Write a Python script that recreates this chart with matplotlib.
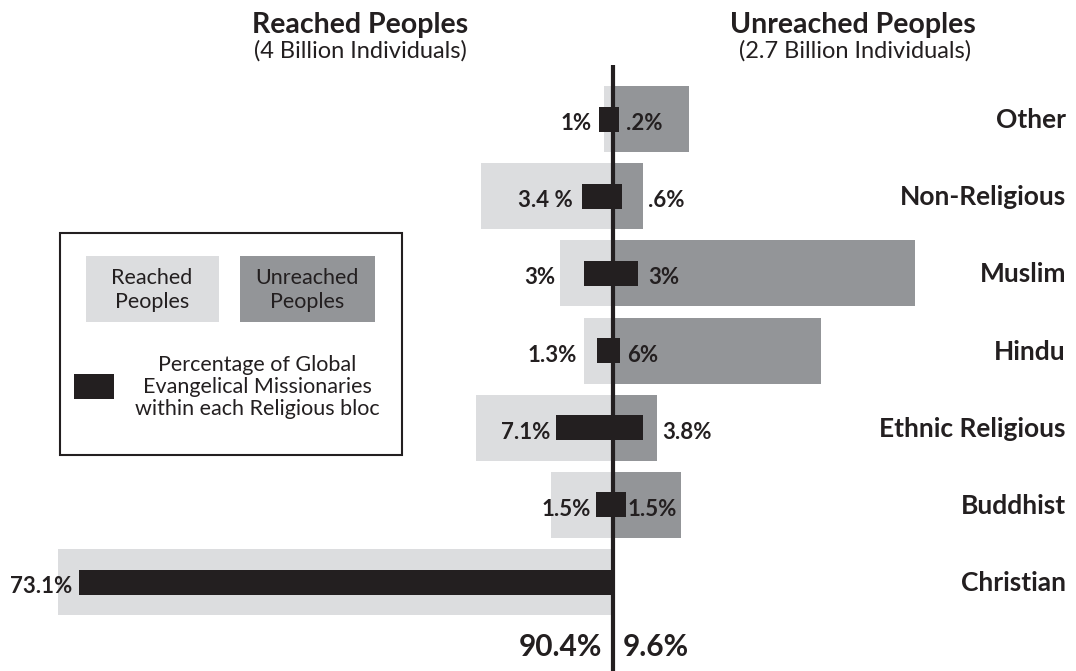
import matplotlib
matplotlib.use("Agg")
import matplotlib.pyplot as plt
from matplotlib.patches import Rectangle

# data (bar lengths on the same scale as the black
# missionary bars, i.e. % of global evangelical missionaries)
categories = ["Other", "Non-Religious", "Muslim", "Hindu",
              "Ethnic Religious", "Buddhist", "Christian"]
reached_pop = [1.2, 18.1, 7.3, 4.0, 18.8, 8.5, 76.0]
unreached_pop = [10.4, 4.1, 41.4, 28.5, 6.0, 9.3, 0.0]
miss_reached = [1.9, 4.2, 4.0, 2.2, 7.8, 2.3, 73.1]
miss_unreached = [0.8, 1.2, 3.4, 1.0, 4.1, 1.8, 0.0]
reached_labels = ["1%", "3.4 %", "3%", "1.3%", "7.1%", "1.5%", "73.1%"]
unreached_labels = [".2%", ".6%", "3%", "6%", "3.8%", "1.5%", ""]
reached_total = "90.4%"
unreached_total = "9.6%"

# label gaps (pixels) as placed in the original
pad_left = [7, 10, 28, 20, 6, 5, 7]
pad_right = [7, 26, 10, 7, 19, 1, 0]

LIGHT = "#dcdddf"
DARK = "#939598"
BLACK = "#231f20"
FONT = ["Lato", "DejaVu Sans"]

W, H = 1076, 671
PX = 7.3        # pixels per unit
X0 = 613        # pixel position of the centre line
ROW = 77.17     # pixels between rows
Y0 = 119        # pixel centre of first row

fig = plt.figure(figsize=(W / 100, H / 100), dpi=100)
ax = fig.add_axes([0, 0, 1, 1])
ax.set_xlim(-X0 / PX, (W - X0) / PX)
ax.set_ylim((H - Y0) / ROW, -Y0 / ROW)
ax.axis("off")

y = list(range(len(categories)))
ax.barh(y, [-v for v in reached_pop], height=66 / ROW, color=LIGHT, zorder=1)
ax.barh(y, unreached_pop, height=66 / ROW, color=DARK, zorder=1)
ax.barh(y, [-v for v in miss_reached], height=25 / ROW, color=BLACK, zorder=2)
ax.barh(y, miss_unreached, height=25 / ROW, color=BLACK, zorder=2)

ax.plot([0, 0], [(65 - Y0) / ROW, (H - Y0) / ROW], color=BLACK, lw=3.0,
        solid_capstyle="butt", zorder=3)

for i in y:
    yb = i + 11 / ROW
    ax.text(-miss_reached[i] - pad_left[i] / PX, yb, reached_labels[i],
            ha="right", va="baseline", fontsize=16, fontweight="bold",
            color=BLACK, family=FONT, zorder=4)
    if unreached_labels[i]:
        ax.text(miss_unreached[i] + pad_right[i] / PX, yb, unreached_labels[i],
                ha="left", va="baseline", fontsize=16, fontweight="bold",
                color=BLACK, family=FONT, zorder=4)
    ax.text((1066 - X0) / PX, i + 9 / ROW, categories[i], ha="right",
            va="baseline", fontsize=19, fontweight="bold", color=BLACK,
            family=FONT)

# totals under the centre line
yt = (656 - Y0) / ROW
ax.text(-11 / PX, yt, reached_total, ha="right", va="baseline", fontsize=21.5,
        fontweight="bold", color=BLACK, family=FONT)
ax.text(10 / PX, yt, unreached_total, ha="left", va="baseline", fontsize=21.5,
        fontweight="bold", color=BLACK, family=FONT)


def fx(px):
    return px / W


def fy(py):
    return 1 - py / H


# headings
fig.text(fx(360), fy(33), "Reached Peoples", ha="center", va="baseline",
         fontsize=20.5, fontweight="bold", color=BLACK, family=FONT)
fig.text(fx(360), fy(58), "(4 Billion Individuals)", ha="center",
         va="baseline", fontsize=17, color=BLACK, family=FONT)
fig.text(fx(853), fy(33), "Unreached Peoples", ha="center", va="baseline",
         fontsize=20.5, fontweight="bold", color=BLACK, family=FONT)
fig.text(fx(855), fy(58), "(2.7 Billion Individuals)", ha="center",
         va="baseline", fontsize=17, color=BLACK, family=FONT)


# legend box drawn by hand
def box(x1, y1, x2, y2, **kw):
    fig.add_artist(Rectangle((fx(x1), fy(y2)), fx(x2) - fx(x1),
                             fy(y1) - fy(y2), transform=fig.transFigure, **kw))


box(60, 233, 402, 455, facecolor="white", edgecolor=BLACK, lw=1.5)
box(86, 256, 219, 322, facecolor=LIGHT, edgecolor="none")
box(240, 256, 375, 322, facecolor=DARK, edgecolor="none")
box(74, 374, 114, 399, facecolor=BLACK, edgecolor="none")
fig.text(fx(152), fy(290), "Reached\nPeoples", ha="center", va="center",
         fontsize=15.5, color=BLACK, family=FONT, linespacing=1.25)
fig.text(fx(307), fy(290), "Unreached\nPeoples", ha="center", va="center",
         fontsize=15.5, color=BLACK, family=FONT, linespacing=1.25)
fig.text(fx(257), fy(387),
         "Percentage of Global\nEvangelical Missionaries\nwithin each Religious bloc",
         ha="center", va="center", fontsize=15.5, color=BLACK, family=FONT,
         linespacing=1.1)

fig.savefig("out.png", dpi=100)
